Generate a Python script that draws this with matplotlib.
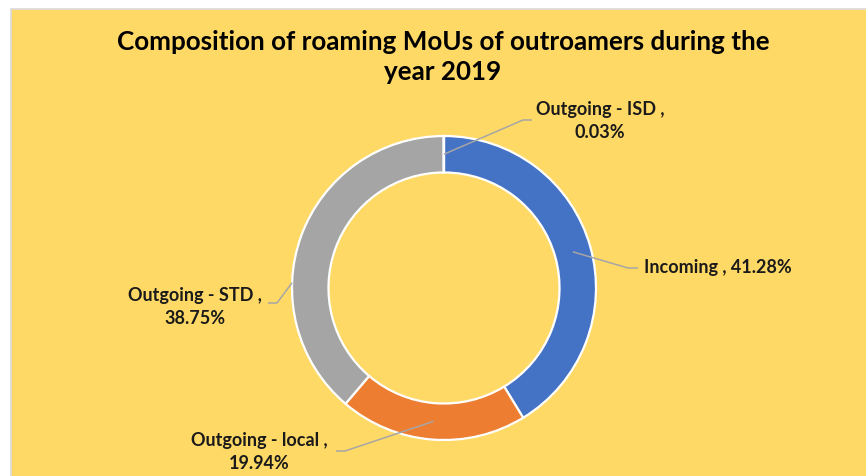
import numpy as np
import matplotlib
matplotlib.use("Agg")
import matplotlib.pyplot as plt
from matplotlib.patches import Rectangle

# data
categories = ["Incoming", "Outgoing - local", "Outgoing - STD", "Outgoing - ISD"]
shares = [41.28, 19.94, 38.75, 0.03]
colors = ["#4472C4", "#ED7D31", "#A5A5A5", "#FFC000"]
title = "Composition of roaming MoUs of outroamers during the\nyear 2019"

plt.rcParams["font.family"] = ["Lato", "DejaVu Sans"]

W, H = 866, 476
fig = plt.figure(figsize=(W / 100, H / 100), dpi=100, facecolor="white")
ax = fig.add_axes([0, 0, 1, 1])
ax.axis("off")

# chart area (yellow panel with light grey border)
ax.add_patch(Rectangle((11, -5), W, H - 9 + 5, facecolor="#FFD966",
                       edgecolor="#D9D9D9", lw=1.2, zorder=0))

cx, cy, R = 444, H - 288, 152
ring = 0.24 * R
wedges, _ = ax.pie(shares, colors=colors, startangle=90, counterclock=False,
                   radius=R, center=(cx, cy),
                   wedgeprops=dict(width=ring, edgecolor="white", linewidth=1.6))

# label layout: text position, alignment, elbow point, anchor override (angle, radius)
layout = {
    "Incoming":         dict(xy=(644, 268), ha="left",   elbow=(628, 268), end=(638, 268), anchor=None),
    "Outgoing - local": dict(xy=(259, 452), ha="center", elbow=(345, 451), end=(336, 451), anchor=None),
    "Outgoing - STD":   dict(xy=(195, 307), ha="center", elbow=(277, 303), end=(268, 303), anchor=(178, R)),
    "Outgoing - ISD":   dict(xy=(600, 121), ha="center", elbow=(523, 120), end=(532, 120), anchor=None),
}

for w, cat, val in zip(wedges, categories, shares):
    L = layout[cat]
    if L["anchor"] is None:
        ang = np.deg2rad((w.theta1 + w.theta2) / 2)
        r = R - ring / 2
    else:
        ang = np.deg2rad(L["anchor"][0])
        r = L["anchor"][1]
    ax0, ay0 = cx + r * np.cos(ang), cy + r * np.sin(ang)
    ex, ey = L["elbow"]
    fx, fy = L["end"]
    ax.plot([ax0, ex, fx], [ay0, H - ey, H - fy], color="#A6A6A6", lw=1.1,
            solid_capstyle="butt", zorder=5)
    if cat == "Incoming":
        txt = f"{cat} , {val:.2f}%"
    else:
        txt = f"{cat} ,\n{val:.2f}%"
    ax.text(L["xy"][0], H - L["xy"][1], txt, ha=L["ha"], va="center",
            multialignment="center", fontsize=13, fontweight="bold",
            color="#1A1A1A", linespacing=1.4, zorder=6)

ax.text(443, H - 57, title, ha="center", va="center", fontsize=18.7,
        fontweight="bold", color="black", linespacing=1.32)

ax.set_xlim(0, W)
ax.set_ylim(0, H)
ax.set_aspect("equal")

fig.savefig("out.png", dpi=100, facecolor="white")
